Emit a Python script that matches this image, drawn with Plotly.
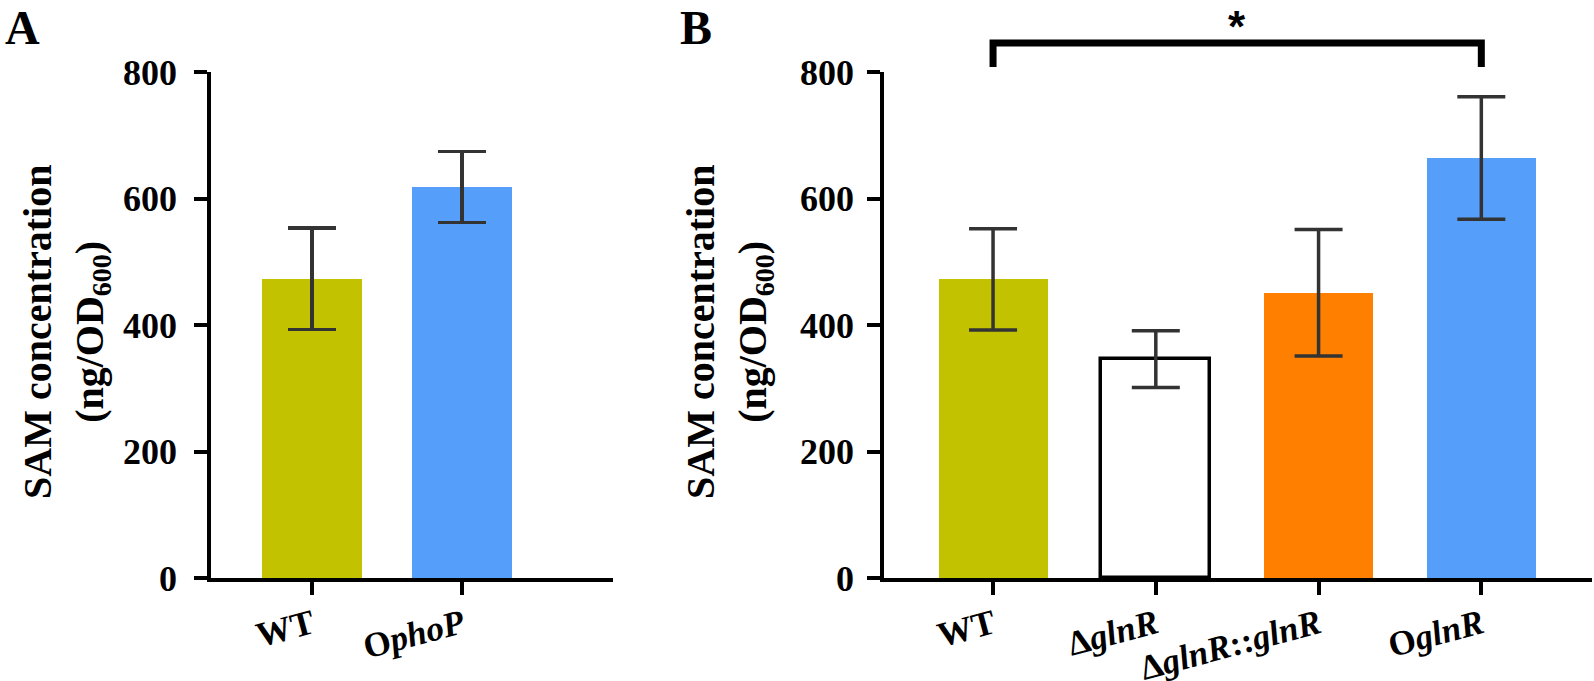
import plotly.graph_objects as go

# ---------------- data ----------------
cats_a = ["WT", "OphoP"]
ticktext_a = ["WT", "O<i>phoP</i>"]
mean_a = [473, 618]
err_a = [80, 56]
colors_a = ["#C2C200", "#559FFB"]

cats_b = ["WT", "ΔglnR", "ΔglnR::glnR", "OglnR"]
ticktext_b = ["WT", "Δ<i>glnR</i>", "Δ<i>glnR</i>::<i>glnR</i>", "O<i>glnR</i>"]
mean_b = [472, 346, 451, 664]
err_b = [80, 45, 100, 97]
colors_b = ["#C2C200", "#FFFFFF", "#FF8000", "#559FFB"]
outline_b = [0, 3.5, 0, 0]

yticks = [0, 200, 400, 600, 800]
ytitle = "SAM concentration<br>(ng/OD<sub>600</sub>)"
signif_pair = (0, 3)
signif_label = "*"

# ---------------- layout helpers ----------------
W, H = 1594, 681
SERIF = "Liberation Serif"
def px_x(p):
    return p / W
def px_y(p):
    return 1 - p / H

y_dom = [px_y(578), px_y(72)]
xa_dom = [px_x(211), px_x(613)]
xb_dom = [px_x(884), px_x(1592)]

fig = go.Figure()

err_style = dict(type="data", color="#333333", thickness=3.5, width=24, visible=True)

fig.add_trace(go.Bar(
    x=list(range(len(cats_a))), y=mean_a, width=0.667,
    marker=dict(color=colors_a, line=dict(width=0)),
    error_y=dict(array=err_a, **err_style),
    xaxis="x", yaxis="y", showlegend=False, hovertext=cats_a,
))
fig.add_trace(go.Bar(
    x=list(range(len(cats_b))), y=mean_b, width=0.67,
    marker=dict(color=colors_b, line=dict(width=outline_b, color="black")),
    error_y=dict(array=err_b, **err_style),
    xaxis="x2", yaxis="y2", showlegend=False, hovertext=cats_b,
))

axis_common = dict(
    showline=True, linewidth=3.5, linecolor="black",
    ticks="outside", tickwidth=3.5, tickcolor="black",
    showgrid=False, zeroline=False, automargin=False,
)
xtickfont = dict(family=SERIF, size=35, color="black", weight="bold")
ytickfont = dict(family=SERIF, size=36, color="black", weight="bold")

fig.update_layout(
    width=W, height=H,
    margin=dict(l=0, r=0, t=0, b=0, autoexpand=False),
    paper_bgcolor="white", plot_bgcolor="white",
    bargap=0,
    xaxis=dict(domain=xa_dom, range=[-0.673, 2.007], anchor="y",
               tickvals=list(range(len(cats_a))), ticktext=ticktext_a,
               tickangle=-15, ticklen=13, ticklabelstandoff=-4,
               tickfont=xtickfont, **axis_common),
    yaxis=dict(domain=y_dom, range=[0, 800], anchor="x",
               tickvals=yticks, ticklen=13, tickfont=ytickfont,
               ticklabelstandoff=10, **axis_common),
    xaxis2=dict(domain=xb_dom, range=[-0.67, 3.68], anchor="y2",
                tickvals=list(range(len(cats_b))), ticktext=ticktext_b,
                tickangle=-15, ticklen=13, ticklabelstandoff=-4,
                tickfont=xtickfont, **axis_common),
    yaxis2=dict(domain=y_dom, range=[0, 800], anchor="x2",
                tickvals=yticks, ticklen=13, tickfont=ytickfont,
                ticklabelstandoff=6, **axis_common),
)

# y-axis titles
for cx in (66, 729):
    fig.add_annotation(
        text=ytitle, x=px_x(cx), y=px_y(332), xref="paper", yref="paper",
        xanchor="center", yanchor="middle", textangle=-90, showarrow=False,
        font=dict(family=SERIF, size=40, color="black", weight="bold"),
    )

# panel letters
for letter, lx in (("A", 3), ("B", 678)):
    fig.add_annotation(
        text=letter, x=px_x(lx), y=px_y(-1), xref="paper", yref="paper",
        xanchor="left", yanchor="top", showarrow=False,
        font=dict(family=SERIF, size=48, color="black", weight="bold"),
    )

# significance bracket
i0, i1 = signif_pair
yb_top, yb_bot = px_y(43), px_y(67)
fig.add_shape(
    type="path", xref="x2", yref="paper",
    path=f"M {i0},{yb_bot} L {i0},{yb_top} L {i1},{yb_top} L {i1},{yb_bot}",
    line=dict(color="black", width=7),
)
fig.add_annotation(
    text=signif_label, x=(i0 + i1) / 2, y=px_y(0), xref="x2", yref="paper",
    xanchor="center", yanchor="top", showarrow=False,
    font=dict(family="Liberation Sans", size=44, color="black", weight="bold"),
)

fig.write_html(
    "out.html",
    config={"displayModeBar": False},
    post_script="document.body.style.margin='0';document.body.style.overflow='hidden';",
)
